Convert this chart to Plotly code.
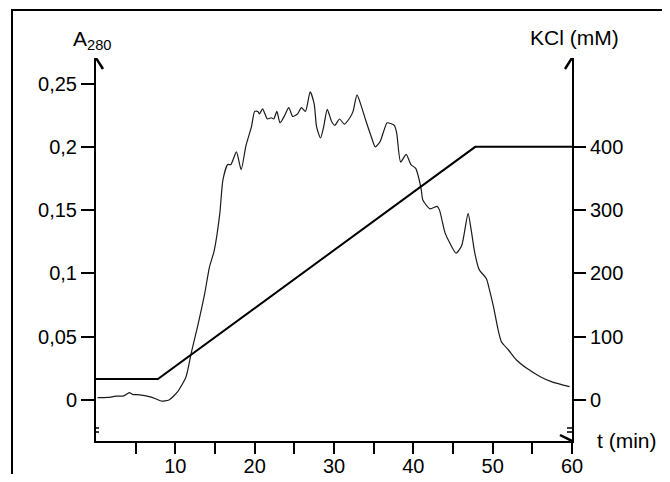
import plotly.graph_objects as go

# ---------------- data ----------------
t_min = [0.2, 1.5, 2.5, 3.5, 4.2, 4.6, 5.5, 6.7, 7.5, 8.2, 9.2, 10.3, 11.35, 12.0, 12.8,
         13.7, 14.3, 14.9, 15.6, 16.0, 16.6, 17.0, 17.7, 18.3, 18.9, 19.6, 20.0, 20.4,
         20.6, 21.0, 21.6, 22.1, 22.4, 22.8, 23.2, 23.8, 24.3, 24.8, 25.4, 25.9, 26.4,
         27.0, 27.5, 27.8, 28.3, 28.7, 29.15, 29.7, 30.1, 30.7, 31.3, 32.0, 32.4, 32.9,
         33.4, 34.0, 34.7, 35.2, 35.8, 36.3, 36.7, 37.6, 37.9, 38.4, 39.1, 39.7, 40.3,
         40.7, 41.0, 41.2, 42.1, 43.0, 43.3, 44.0, 44.6, 45.4, 46.1, 46.9, 47.3, 47.75,
         48.3, 49.2, 49.6, 50.1, 50.7, 51.1, 52.0, 53.0, 54.3, 56.0, 57.4, 58.9, 59.7]
a280 = [0.0018, 0.002, 0.003, 0.0032, 0.0058, 0.0045, 0.004, 0.0026, 0.001, -0.0008, 0.0,
        0.0066, 0.0184, 0.037, 0.058, 0.084, 0.105, 0.118, 0.147, 0.174, 0.186, 0.186,
        0.196, 0.182, 0.201, 0.216, 0.228, 0.228, 0.226, 0.230, 0.222, 0.223, 0.222,
        0.228, 0.219, 0.225, 0.231, 0.224, 0.226, 0.231, 0.228, 0.2435, 0.234, 0.216,
        0.207, 0.216, 0.2296, 0.220, 0.217, 0.222, 0.218, 0.223, 0.228, 0.241, 0.233,
        0.221, 0.208, 0.200, 0.204, 0.213, 0.219, 0.217, 0.211, 0.188, 0.194, 0.186,
        0.183, 0.175, 0.166, 0.158, 0.151, 0.153, 0.150, 0.132, 0.124, 0.116, 0.122,
        0.1475, 0.134, 0.116, 0.103, 0.096, 0.087, 0.0737, 0.055, 0.046, 0.0395, 0.0316,
        0.025, 0.0184, 0.0145, 0.0118, 0.0105]

grad_t = [0, 7.8, 47.8, 60]
grad_kcl = [33, 33, 400, 400]

x_tickvals = [10, 20, 30, 40, 50, 60]
x_ticktext = ["10", "20", "30", "40", "50", "60"]
x_minor_tickvals = [5, 15, 25, 35, 45, 55]
y_tickvals = [0, 0.05, 0.1, 0.15, 0.2, 0.25]
y_ticktext = ["0", "0,05", "0,1", "0,15", "0,2", "0,25"]
y2_tickvals = [0, 100, 200, 300, 400]
y2_ticktext = ["0", "100", "200", "300", "400"]

# ---------------- layout geometry ----------------
# page body has an 8px margin: figure is sized so the page fits the 670x482 window
OFF = 8
W, H = 670 - 2 * OFF, 482 - 2 * OFF
ML, MR, MT, MB = 96 - OFF, W - (572 - OFF), 58 - OFF, H - (441 - OFF)
Y_MIN, Y_MAX = -0.0324, 0.2702
SCALE = 2000.0  # 0.2 A280 <-> 400 mM
PW, PH = W - ML - MR, H - MT - MB

FONT = "Liberation Sans, Arial, Helvetica, sans-serif"

fig = go.Figure()
fig.add_trace(go.Scatter(x=t_min, y=a280, mode="lines",
                         line=dict(color="#1a1a1a", width=1.2, shape="spline", smoothing=0.6),
                         hoverinfo="skip"))
fig.add_trace(go.Scatter(x=grad_t, y=grad_kcl, mode="lines", yaxis="y2",
                         line=dict(color="black", width=2), hoverinfo="skip"))

axis_common = dict(showgrid=False, zeroline=False, showline=True, linecolor="black",
                   linewidth=2, ticks="outside", tickcolor="black", tickwidth=2,
                   tickfont=dict(family=FONT, size=20, color="black"))

fig.update_layout(
    width=W, height=H,
    margin=dict(l=ML, r=MR, t=MT, b=MB, pad=0, autoexpand=False),
    paper_bgcolor="white", plot_bgcolor="white",
    showlegend=False,
    xaxis=dict(range=[0, 60], tickmode="array", tickvals=x_tickvals, ticktext=x_ticktext,
               ticklen=11, ticklabelstandoff=-5,
               minor=dict(tickvals=x_minor_tickvals, ticks="outside", ticklen=11,
                          tickwidth=2, tickcolor="black", showgrid=False),
               **axis_common),
    yaxis=dict(range=[Y_MIN, Y_MAX], tickmode="array", tickvals=y_tickvals,
               ticktext=y_ticktext, ticklen=13, **axis_common),
    yaxis2=dict(range=[Y_MIN * SCALE, Y_MAX * SCALE], overlaying="y", side="right",
                tickmode="array", tickvals=y2_tickvals, ticktext=y2_ticktext,
                ticklen=12, **axis_common),
)

def px_x(p):
    return (p - OFF - ML) / PW

def px_y(p):
    return (H - MB - (p - OFF)) / PH

shapes = []
# outer frame (only top and left visible in the reference)
shapes.append(dict(type="rect", xref="paper", yref="paper",
                   x0=px_x(12), x1=px_x(700), y0=px_y(520), y1=px_y(10),
                   line=dict(color="black", width=2), fillcolor="rgba(0,0,0,0)"))
arrow_line = dict(color="black", width=2.5)
# y axis arrows
for xa in (0, 60):
    shapes.append(dict(type="path", xref="x", yref="y", xsizemode="pixel", ysizemode="pixel",
                       xanchor=xa, yanchor=Y_MAX, path="M-7,-11 L0,0 L7,-11",
                       line=arrow_line))
# x axis arrow
shapes.append(dict(type="path", xref="x", yref="y", xsizemode="pixel", ysizemode="pixel",
                   xanchor=60, yanchor=Y_MIN, path="M-12,6 L0,0 L-12,-6", line=arrow_line))
# axis break marks
shapes.append(dict(type="path", xref="x", yref="y", xsizemode="pixel", ysizemode="pixel",
                   xanchor=0, yanchor=0, path="M-11,-28 L3,-28 M-11,-32 L3,-32",
                   line=dict(color="black", width=1.5)))
shapes.append(dict(type="path", xref="x", yref="y", xsizemode="pixel", ysizemode="pixel",
                   xanchor=60, yanchor=0, path="M-5,-28 L7,-28 M-5,-32 L7,-32",
                   line=dict(color="black", width=1.5)))
fig.update_layout(shapes=shapes)

title_font = dict(family=FONT, size=21, color="black")
fig.add_annotation(xref="paper", yref="paper", x=px_x(92), y=px_y(40),
                   text="A<sub>280</sub>", showarrow=False, font=title_font,
                   xanchor="center", yanchor="middle")
fig.add_annotation(xref="paper", yref="paper", x=px_x(574), y=px_y(38),
                   text="KCl (mM)", showarrow=False, font=title_font,
                   xanchor="center", yanchor="middle")
fig.add_annotation(xref="paper", yref="paper", x=px_x(627), y=px_y(440),
                   text="t (min)", showarrow=False, font=title_font,
                   xanchor="center", yanchor="middle")

fig.write_html("out.html")
